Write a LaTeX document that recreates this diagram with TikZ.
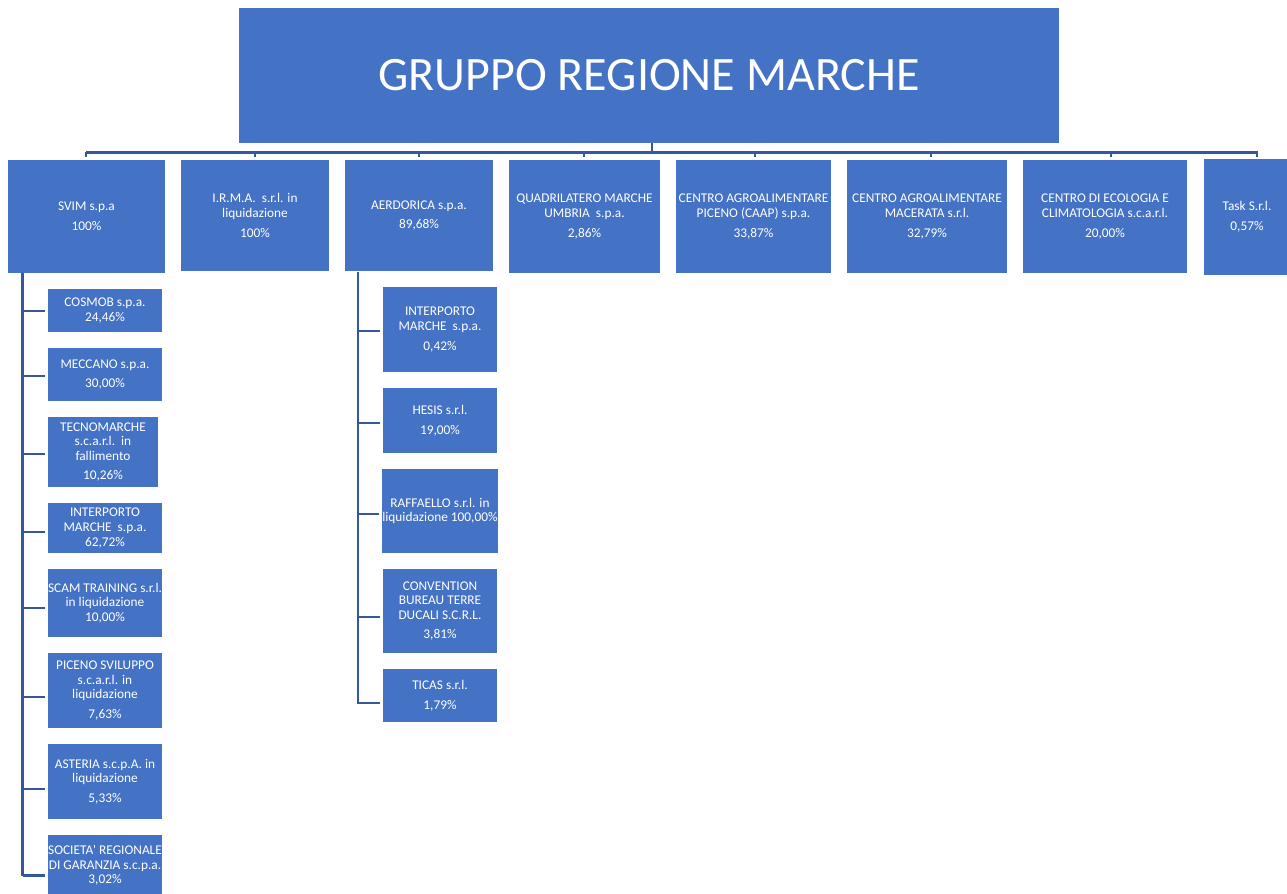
\documentclass[tikz,border=0pt]{standalone}
\usepackage{fontspec}
\setmainfont{Carlito}[Ligatures=TeXOff]
\definecolor{boxblue}{RGB}{68,114,196}
\definecolor{lineblue}{RGB}{52,88,160}
\tikzset{
  orgbox/.style={fill=boxblue, text=white, inner sep=0pt, align=center,
    font=\fontsize{10}{10.9}\selectfont},
  conn/.style={draw=lineblue, line width=2.1pt},
}
\newcommand\ob[6]{%
  \node[orgbox, minimum width={(#4-#2)*0.75pt}, minimum height={(#5-#3)*0.75pt}]
    (#1) at ({(#2+#4)/2},{(#3+#5)/2}) {#6};}
\begin{document}
\begin{tikzpicture}[x=0.75pt,y=-0.75pt]
\useasboundingbox (0,0) rectangle (1287,893);
% header
\node[fill=boxblue, text=white, inner sep=0pt,
  minimum width={820*0.75pt}, minimum height={135*0.75pt},
  font=\fontsize{36}{40}\selectfont] (root) at (649,75.5) {GRUPPO REGIONE MARCHE};
% top row
\ob{svim}{8}{160}{165}{273}{SVIM s.p.a\\[4pt]100\%}
\ob{irma}{181}{160}{329}{271}{I.R.M.A.\ \ s.r.l. in\\liquidazione\\[4pt]100\%}
\ob{aer}{345}{160}{493}{271}{AERDORICA s.p.a.\\[4pt]89,68\%}
\ob{quad}{509}{160}{660}{273}{QUADRILATERO MARCHE\\UMBRIA\ \ s.p.a.\\[4pt]2,86\%}
\ob{caap}{676}{160}{831}{273}{CENTRO AGROALIMENTARE\\PICENO (CAAP) s.p.a.\\[4pt]33,87\%}
\ob{mac}{847}{160}{1007}{273}{CENTRO AGROALIMENTARE\\MACERATA s.r.l.\\[4pt]32,79\%}
\ob{eco}{1023}{160}{1187}{273}{CENTRO DI ECOLOGIA E\\CLIMATOLOGIA s.c.a.r.l.\\[4pt]20,00\%}
\ob{task}{1204}{159}{1290}{275}{Task S.r.l.\\[4pt]0,57\%}
% SVIM children
\ob{cosmob}{48}{289}{162}{332}{COSMOB s.p.a.\\24,46\%}
\ob{meccano}{48}{348}{162}{401}{MECCANO s.p.a.\\[4pt]30,00\%}
\ob{tecno}{48}{417}{158}{487}{TECNOMARCHE\\s.c.a.r.l.\ \ in\\fallimento\\[4pt]10,26\%}
\ob{interp}{48}{503}{162}{553}{INTERPORTO\\MARCHE\ \ s.p.a.\\62,72\%}
\ob{scam}{48}{569}{162}{637}{SCAM TRAINING s.r.l.\\in liquidazione\\10,00\%}
\ob{piceno}{48}{653}{162}{728}{PICENO SVILUPPO\\s.c.a.r.l. in\\liquidazione\\[4pt]7,63\%}
\ob{asteria}{48}{744}{162}{819}{ASTERIA s.c.p.A. in\\liquidazione\\[4pt]5,33\%}
\ob{soc}{48}{835}{162}{896}{SOCIETA' REGIONALE\\DI GARANZIA s.c.p.a.\\3,02\%}
% AERDORICA children
\ob{interpb}{383}{287}{497}{372}{INTERPORTO\\MARCHE\ \ s.p.a.\\[4pt]0,42\%}
\ob{hesis}{383}{388}{497}{453}{HESIS s.r.l.\\[4pt]19,00\%}
\ob{raff}{383}{469}{497}{553}{RAFFAELLO s.r.l. in\\liquidazione 100,00\%}
\ob{conv}{383}{569}{497}{653}{CONVENTION\\BUREAU TERRE\\DUCALI S.C.R.L.\\[4pt]3,81\%}
\ob{ticas}{383}{669}{497}{722}{TICAS s.r.l.\\[4pt]1,79\%}
% top bus
\coordinate (busL) at (86,152.5);
\coordinate (busR) at (1258,152.5);
\draw[conn] (busL) -- (busR);
\draw[conn] (root.south -| 652,0) -- (652,152.5);
\foreach \n/\x in {svim/86,irma/255,aer/419,quad/584,caap/755,mac/931,eco/1111,task/1257}{
  \draw[conn] (\x,151.5) -- (\x,157);
}
% SVIM column
\coordinate (lvtop) at (22.5,273);
\draw[conn] (lvtop) -- (22.5,876);
\foreach \n/\d in {cosmob/0.5,meccano/1.5,tecno/2,interp/4,scam/5,piceno/6.5,asteria/7.5,soc/10}{
  \draw[conn] ([yshift=-\d*0.75pt]\n.west -| lvtop) -- ([xshift=-3*0.75pt,yshift=-\d*0.75pt]\n.west);
}
% AERDORICA column
\coordinate (mvtop) at (358,272);
\draw[conn] (mvtop) -- (358,704);
\foreach \n/\d in {interpb/1.5,hesis/2.5,raff/3,conv/6,ticas/7.5}{
  \draw[conn] ([yshift=-\d*0.75pt]\n.west -| mvtop) -- ([xshift=-3*0.75pt,yshift=-\d*0.75pt]\n.west);
}
\end{tikzpicture}
\end{document}
